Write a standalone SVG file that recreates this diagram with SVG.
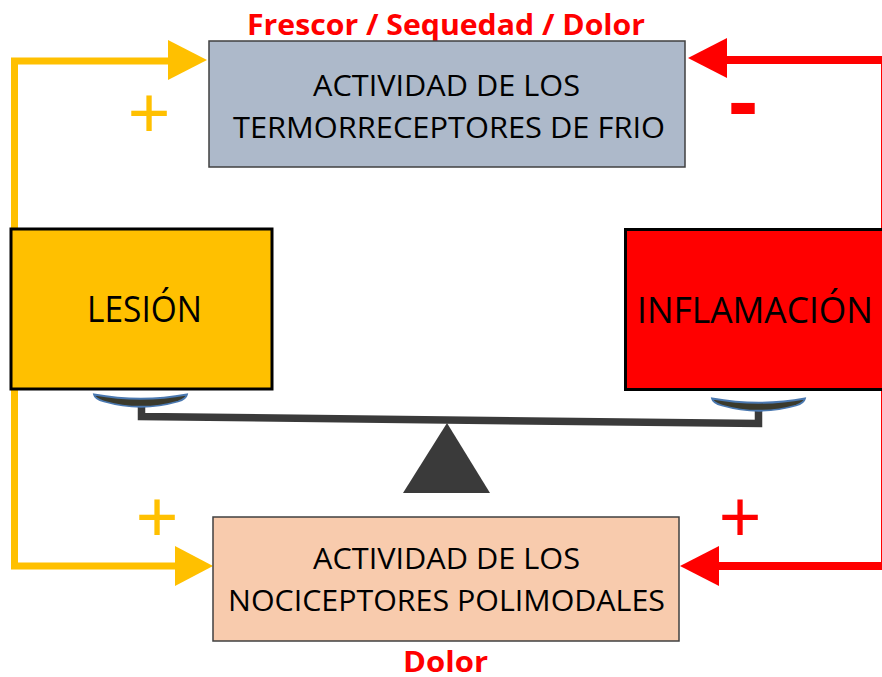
<svg xmlns="http://www.w3.org/2000/svg" width="882" height="677" viewBox="0 0 882 677">
<style>
.lbl{font-family:"Open Sans","Liberation Sans",Arial,sans-serif;fill:#000;text-anchor:middle}
.red{font-family:"Open Sans","Liberation Sans",Arial,sans-serif;fill:#ff0000;font-weight:bold;text-anchor:middle}
.sign{font-family:"Liberation Sans",Arial,sans-serif;text-anchor:middle}
.box{stroke:#404040;stroke-width:1.5}
.bigbox{stroke:#000;stroke-width:3}
</style>
<rect width="882" height="677" fill="#fff"/>
<g id="connectors">
  <path d="M170,61 H14.5 V566 H177" fill="none" stroke="#ffc000" stroke-width="7" stroke-linejoin="miter"/>
  <polygon points="207,60 168,40 168,80" fill="#ffc000"/>
  <polygon points="213,566 175,546 175,586" fill="#ffc000"/>
  <path d="M725,60 H885 V566 H717" fill="none" stroke="#ff0000" stroke-width="8" stroke-linejoin="miter"/>
  <polygon points="688,58 727,38 727,78" fill="#ff0000"/>
  <polygon points="680,566 719,546 719,586" fill="#ff0000"/>
  <text class="sign" x="149" y="137" font-size="73" fill="#ffc000">+</text>
  <text class="sign" x="157" y="541" font-size="73" fill="#ffc000">+</text>
  <text class="sign" x="740" y="541" font-size="73" fill="#ff0000">+</text>
  <text class="sign" x="743" y="133" font-size="92" font-weight="bold" fill="#ff0000">-</text>
</g>
<g id="title">
  <text class="red" x="446" y="35" font-size="29" textLength="398" lengthAdjust="spacingAndGlyphs">Frescor / Sequedad / Dolor</text>
</g>
<g id="termorreceptores">
  <rect class="box" x="209" y="41" width="476" height="126" fill="#adb9ca"/>
  <text class="lbl" x="446.5" y="96" font-size="29" textLength="267" lengthAdjust="spacingAndGlyphs">ACTIVIDAD DE LOS</text>
  <text class="lbl" x="449" y="138" font-size="30" textLength="432" lengthAdjust="spacingAndGlyphs">TERMORRECEPTORES  DE FRIO</text>
</g>
<g id="lesion">
  <rect class="bigbox" x="11" y="229" width="261" height="160" fill="#ffc000"/>
  <text class="lbl" x="144.5" y="322" font-size="37" textLength="115" lengthAdjust="spacingAndGlyphs">LESIÓN</text>
</g>
<g id="inflamacion">
  <rect class="bigbox" x="625.5" y="229.5" width="270" height="160" fill="#ff0000"/>
  <text class="lbl" x="755" y="323" font-size="37" textLength="236" lengthAdjust="spacingAndGlyphs">INFLAMACIÓN</text>
</g>
<g id="balanza">
  <path d="M141.5,404 V416.5 L758.5,423.5 V409" fill="none" stroke="#3a3a3a" stroke-width="7.5" stroke-linejoin="miter"/>
  <path d="M94,394.5 Q141,403 187,394.5 Q186,399 178,401.5 Q141,412 104,401.5 Q95,399 94,394.5 Z" fill="#3b3a2c" stroke="#4a78b0" stroke-width="1.8"/>
  <path d="M712,398.5 Q759,407 805,398.5 Q804,403 796,405.5 Q759,416 722,405.5 Q713,403 712,398.5 Z" fill="#3b3a2c" stroke="#4a78b0" stroke-width="1.8"/>
  <polygon points="447,423 403,493 490,493" fill="#3a3a3a"/>
</g>
<g id="nociceptores">
  <rect class="box" x="213" y="517" width="466" height="124" fill="#f8cbad"/>
  <text class="lbl" x="446.5" y="569" font-size="29" textLength="267" lengthAdjust="spacingAndGlyphs">ACTIVIDAD DE LOS</text>
  <text class="lbl" x="446.5" y="611" font-size="30" textLength="437" lengthAdjust="spacingAndGlyphs">NOCICEPTORES  POLIMODALES</text>
</g>
<g id="dolor">
  <text class="red" x="445.5" y="672" font-size="29" textLength="85" lengthAdjust="spacingAndGlyphs">Dolor</text>
</g>
</svg>
